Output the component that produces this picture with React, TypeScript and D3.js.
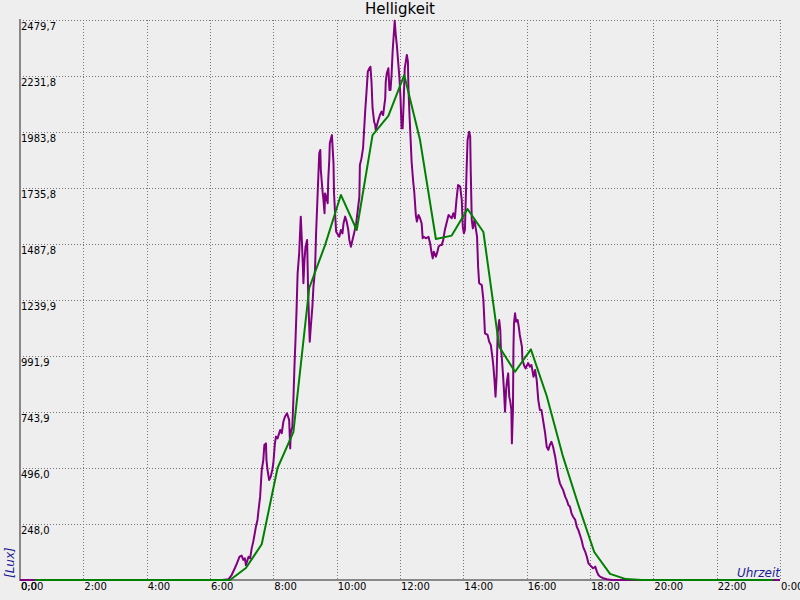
import { useEffect, useRef } from "react";
import * as d3 from "d3";

// minutes since midnight, lux
const luxSamples: [number, number][] = [
  [0, 0], [383, 0], [395, 3], [401, 22], [407, 52], [411, 74], [416, 103], [420, 108],
  [423, 89], [426, 96], [428, 66], [433, 103], [436, 96], [439, 140], [442, 170], [447, 236],
  [450, 266], [452, 310], [455, 369], [458, 487], [461, 531], [463, 598], [466, 605], [467, 531],
  [469, 487], [472, 443], [475, 457], [478, 487], [480, 517], [483, 605], [485, 635], [488, 627],
  [493, 664], [496, 650], [499, 701], [502, 723], [506, 738], [508, 723], [510, 708], [512, 583],
  [513, 651], [516, 679], [518, 797], [520, 944], [522, 1063], [524, 1196], [526, 1358], [529, 1447],
  [531, 1557], [532, 1609], [534, 1506], [536, 1387], [537, 1314], [539, 1417], [541, 1476], [544, 1506],
  [545, 1387], [546, 1270], [548, 1122], [549, 1055], [551, 1122], [554, 1210], [556, 1299], [559, 1373],
  [561, 1535], [563, 1653], [565, 1771], [567, 1889], [569, 1904], [570, 1815], [573, 1727], [575, 1683],
  [577, 1624], [578, 1712], [580, 1697], [583, 1668], [584, 1771], [586, 1860], [587, 1934], [591, 1970],
  [594, 1845], [595, 1712], [597, 1624], [599, 1542], [601, 1535], [605, 1520], [608, 1550], [611, 1535],
  [613, 1579], [616, 1609], [619, 1587], [622, 1550], [624, 1506], [627, 1476], [630, 1506], [633, 1535],
  [637, 1579], [640, 1638], [643, 1697], [644, 1838], [647, 1867], [650, 1912], [654, 2074], [657, 2177],
  [659, 2251], [662, 2266], [664, 2273], [666, 2206], [668, 2089], [671, 2029], [673, 2015], [674, 1993],
  [678, 2029], [682, 2059], [685, 2074], [688, 2059], [692, 2133], [693, 2206], [695, 2244], [698, 2266],
  [700, 2170], [702, 2170], [704, 2236], [706, 2339], [709, 2443], [710, 2476], [712, 2413], [714, 2369],
  [717, 2280], [719, 2222], [721, 2133], [723, 2000], [725, 2000], [727, 2118], [729, 2266], [733, 2325],
  [735, 2295], [736, 2177], [738, 2059], [740, 1956], [742, 1852], [745, 1764], [747, 1719], [750, 1616],
  [752, 1587], [755, 1616], [758, 1602], [761, 1579], [763, 1513], [765, 1520], [769, 1513], [774, 1520],
  [777, 1491], [780, 1447], [782, 1424], [784, 1454], [788, 1432], [791, 1454], [793, 1476], [796, 1483],
  [799, 1483], [802, 1506], [805, 1550], [808, 1579], [812, 1616], [815, 1609], [818, 1602], [821, 1624],
  [824, 1602], [827, 1683], [830, 1749], [834, 1742], [837, 1683], [839, 1564], [841, 1535], [843, 1550],
  [846, 1801], [848, 1948], [851, 1985], [853, 1963], [854, 1815], [856, 1594], [858, 1557], [861, 1594],
  [864, 1550], [866, 1520], [868, 1387], [870, 1314], [875, 1306], [878, 1240], [881, 1092], [886, 1085],
  [889, 1055], [892, 1041], [895, 989], [897, 945], [899, 886], [901, 812], [903, 900], [905, 1092],
  [908, 1151], [910, 1107], [911, 1033], [913, 982], [915, 915], [917, 841], [919, 745], [921, 841],
  [923, 886], [925, 915], [927, 812], [929, 790], [931, 753], [932, 605], [934, 753], [935, 1033],
  [936, 1137], [938, 1181], [940, 1144], [943, 1151], [945, 1122], [947, 1085], [951, 1033], [952, 974],
  [956, 945], [958, 937], [961, 952], [963, 960], [966, 945], [969, 952], [973, 900], [976, 930],
  [979, 886], [982, 797], [985, 753], [988, 753], [992, 694], [995, 650], [998, 590], [1001, 576],
  [1004, 598], [1007, 612], [1010, 590], [1014, 546], [1017, 502], [1020, 457], [1023, 428], [1026, 413],
  [1029, 399], [1033, 369], [1036, 354], [1039, 332], [1042, 325], [1045, 295], [1048, 280], [1052, 266],
  [1055, 236], [1058, 221], [1061, 199], [1064, 177], [1067, 147], [1071, 125], [1074, 103], [1077, 74],
  [1080, 66], [1083, 59], [1086, 52], [1090, 59], [1093, 37], [1096, 22], [1099, 15], [1105, 8],
  [1112, 3], [1121, 0], [1440, 0],
];

// half-hour means
const avgSamples: [number, number][] = [
  [28, 0], [398, 0], [428, 53], [458, 158], [488, 496], [518, 655], [548, 1293], [578, 1483],
  [608, 1705], [638, 1550], [668, 1970], [698, 2055], [728, 2236], [758, 1948], [788, 1510],
  [818, 1525], [848, 1643], [878, 1541], [908, 1033], [938, 922], [968, 1021], [998, 815],
  [1028, 553], [1058, 332], [1088, 124], [1118, 27], [1148, 4], [1178, 0], [1427, 0],
];

const Y_MAX = 2479.74;
const Y_LABELS = [
  "0,0", "248,0", "496,0", "743,9", "991,9", "1239,9",
  "1487,8", "1735,8", "1983,8", "2231,8", "2479,7",
];
const X_LABELS = [
  "0:00", "2:00", "4:00", "6:00", "8:00", "10:00", "12:00",
  "14:00", "16:00", "18:00", "20:00", "22:00", "0:00",
];

const W = 800;
const H = 600;
const PLOT = { left: 20, right: 780, top: 20, bottom: 580 };
const FONT = "DejaVu Sans, sans-serif";

export default function App() {
  const svgRef = useRef<SVGSVGElement>(null);

  useEffect(() => {
    if (!svgRef.current) return;
    const svg = d3.select(svgRef.current);
    svg.selectAll("*").remove();

    const x = d3.scaleLinear().domain([0, 1440]).range([PLOT.left, PLOT.right]);
    const y = d3.scaleLinear().domain([0, Y_MAX]).range([PLOT.bottom, PLOT.top]);
    const xTicks = X_LABELS.map((_, i) => i * 120);
    const yTicks = Y_LABELS.map((_, i) => (i * Y_MAX) / (Y_LABELS.length - 1));

    svg.append("rect").attr("width", W).attr("height", H).attr("fill", "#eeeeee");

    // grid
    const grid = svg.append("g").attr("stroke", "#777").attr("stroke-width", 1).attr("stroke-dasharray", "1 2");
    xTicks.slice(1).forEach((t) => {
      const px = Math.round(x(t)) + 0.5;
      grid.append("line").attr("x1", px).attr("x2", px).attr("y1", PLOT.top).attr("y2", PLOT.bottom);
    });
    yTicks.slice(1).forEach((v) => {
      const py = Math.round(y(v)) + 0.5;
      grid.append("line").attr("x1", PLOT.left).attr("x2", PLOT.right).attr("y1", py).attr("y2", py);
    });

    // axes
    svg.append("line")
      .attr("x1", PLOT.left).attr("x2", PLOT.left).attr("y1", PLOT.top - 1).attr("y2", PLOT.bottom + 1)
      .attr("stroke", "#888").attr("stroke-width", 2);
    svg.append("line")
      .attr("x1", PLOT.left).attr("x2", PLOT.right).attr("y1", PLOT.bottom).attr("y2", PLOT.bottom)
      .attr("stroke", "#888").attr("stroke-width", 2);

    svg.append("g").selectAll("text").data(yTicks).join("text")
      .attr("x", PLOT.left + 1)
      .attr("y", (d) => y(d) + 9.5)
      .attr("font-family", FONT).attr("font-size", 10).attr("fill", "#000")
      .text((_, i) => Y_LABELS[i]);

    svg.append("g").selectAll("text").data(xTicks).join("text")
      .attr("x", (d) => x(d) + 1)
      .attr("y", PLOT.bottom + 9.5)
      .attr("font-family", FONT).attr("font-size", 10).attr("fill", "#000")
      .text((_, i) => X_LABELS[i]);

    const line = d3.line<[number, number]>().x((d) => x(d[0])).y((d) => y(d[1]));

    svg.append("path").datum(luxSamples)
      .attr("d", line).attr("fill", "none")
      .attr("stroke", "#800080").attr("stroke-width", 2).attr("stroke-linejoin", "round");

    svg.append("path").datum(avgSamples)
      .attr("d", line).attr("fill", "none")
      .attr("stroke", "#008000").attr("stroke-width", 2).attr("stroke-linejoin", "round");

    svg.append("text")
      .attr("x", W / 2).attr("y", 13.5).attr("text-anchor", "middle")
      .attr("font-family", FONT).attr("font-size", 15).attr("fill", "#000")
      .text("Helligkeit");

    svg.append("text")
      .attr("transform", `translate(14,578) rotate(-90)`)
      .attr("font-family", FONT).attr("font-size", 12).attr("font-style", "italic")
      .attr("fill", "#1c1c96")
      .text("[Lux]");

    svg.append("text")
      .attr("x", PLOT.right).attr("y", 577).attr("text-anchor", "end")
      .attr("font-family", FONT).attr("font-size", 12).attr("font-style", "italic")
      .attr("fill", "#1c1c96")
      .text("Uhrzeit");
  }, []);

  return (
    <div style={{ position: "absolute", left: 0, top: 0 }}>
      <svg ref={svgRef} width={W} height={H} style={{ display: "block" }} />
    </div>
  );
}
